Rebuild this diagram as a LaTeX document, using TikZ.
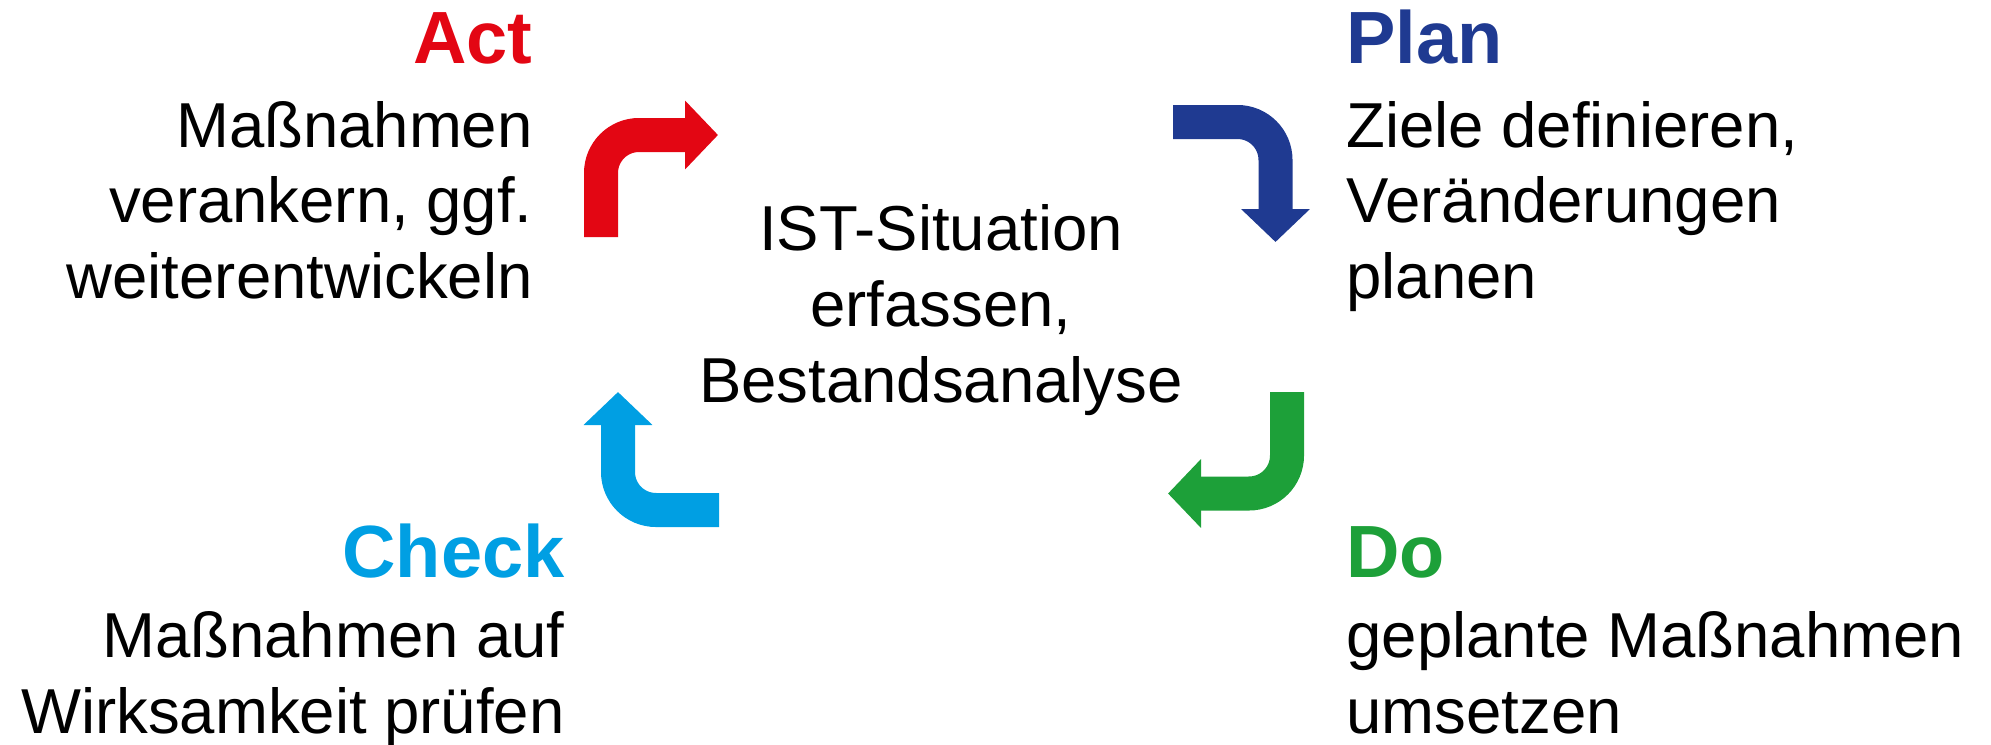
\documentclass[tikz,border=0pt]{standalone}
\usepackage{fontspec}
\setmainfont{Liberation Sans}
\usetikzlibrary{arrows.meta}

\definecolor{actred}{RGB}{227,6,19}
\definecolor{planblue}{RGB}{31,58,145}
\definecolor{dogreen}{RGB}{29,160,57}
\definecolor{checkcyan}{RGB}{0,159,227}

\begin{document}
\begin{tikzpicture}[x=0.5pt, y=-0.5pt,
    head/.style={font=\fontsize{37}{44}\selectfont\bfseries, inner sep=0pt},
    body/.style={font=\fontsize{31.75}{38}\selectfont, inner sep=0pt},
    flow/.style={line width=17pt, rounded corners=19pt,
        -{Triangle[length=16.5pt, width=33.5pt]}}]
    \useasboundingbox (0,0) rectangle (1991,744);

    % Act (top left)
    \node[head, actred, anchor=base east] (act) at (533,63.5) {Act};
    \node[body, anchor=base east] (act1) at (533,147) {Maßnahmen};
    \node[body, anchor=base east] (act2) at (533,222.5) {verankern, ggf.};
    \node[body, anchor=base east] (act3) at (533,298) {weiterentwickeln};

    % Plan (top right)
    \node[head, planblue, anchor=base west] (plan) at (1346,63.5) {Plan};
    \node[body, anchor=base west] (plan1) at (1346,147) {Ziele definieren,};
    \node[body, anchor=base west] (plan2) at (1346,222.5) {Veränderungen};
    \node[body, anchor=base west] (plan3) at (1346,298) {planen};

    % Do (bottom right)
    \node[head, dogreen, anchor=base west] (do) at (1346,577) {Do};
    \node[body, anchor=base west] (do1) at (1346,657) {geplante Maßnahmen};
    \node[body, anchor=base west] (do2) at (1346,733) {umsetzen};

    % Check (bottom left)
    \node[head, checkcyan, anchor=base east] (check) at (565,577) {Check};
    \node[body, anchor=base east] (check1) at (565,657) {Maßnahmen auf};
    \node[body, anchor=base east] (check2) at (565,733) {Wirksamkeit prüfen};

    % IST-Situation (centre)
    \node[body, anchor=base] (ist1) at (941,250) {IST-Situation};
    \node[body, anchor=base] (ist2) at (941,326) {erfassen,};
    \node[body, anchor=base] (ist3) at (941,402) {Bestandsanalyse};

    % Cycle arrows
    \draw[flow, actred] (601,237) -- (601,135) -- (718,135);
    \draw[flow, planblue] (1173,122) -- (1275.5,122) -- (1275.5,242);
    \draw[flow, dogreen] (1287,392) -- (1287,493.5) -- (1168,493.5);
    \draw[flow, checkcyan] (719,510) -- (618,510) -- (618,392);
\end{tikzpicture}
\end{document}
